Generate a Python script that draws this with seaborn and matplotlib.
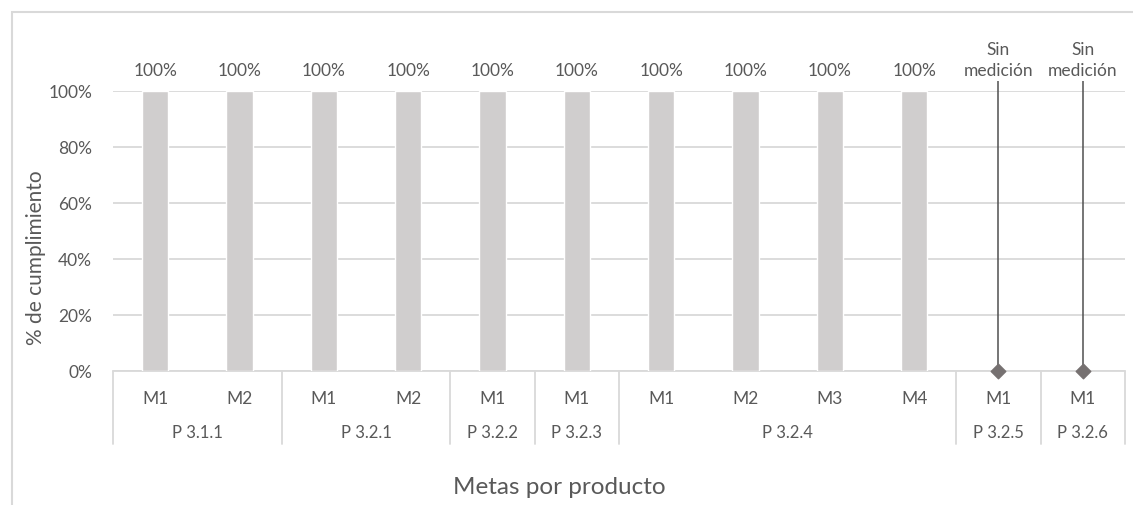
import pandas as pd
import matplotlib
matplotlib.use("Agg")
import matplotlib.pyplot as plt
import matplotlib.transforms as mtransforms
from matplotlib.patches import Rectangle
import numpy as np
import seaborn as sns

# Datos: metas por producto y % de cumplimiento (None = sin medición)
productos = ["P 3.1.1", "P 3.1.1", "P 3.2.1", "P 3.2.1", "P 3.2.2", "P 3.2.3",
             "P 3.2.4", "P 3.2.4", "P 3.2.4", "P 3.2.4", "P 3.2.5", "P 3.2.6"]
metas = ["M1", "M2", "M1", "M2", "M1", "M1", "M1", "M2", "M3", "M4", "M1", "M1"]
cumplimiento = [1.0, 1.0, 1.0, 1.0, 1.0, 1.0, 1.0, 1.0, 1.0, 1.0, None, None]
etiquetas = ["100%"] * 10 + ["Sin\nmedición", "Sin\nmedición"]
y_ticks = [0, 0.2, 0.4, 0.6, 0.8, 1.0]
y_labels = ["0%", "20%", "40%", "60%", "80%", "100%"]

TXT = "#595959"
GRID = "#D9D9D9"
BAR = "#D0CECE"

sns.set_style("white")
plt.rcParams["font.family"] = ["Lato", "DejaVu Sans"]

df = pd.DataFrame({"producto": productos, "meta": metas, "valor": cumplimiento})
df["clave"] = df["producto"] + "|" + df["meta"]
df["valor"] = df["valor"].astype(float)

fig = plt.figure(figsize=(11.33, 5.06), dpi=100)
ax = fig.add_axes([113 / 1133, 134 / 506, 1012 / 1133, 280 / 506])

sns.barplot(data=df, x="clave", y="valor", order=list(df["clave"]),
            color=BAR, width=0.31, saturation=1, ax=ax, zorder=2)

# marcadores para las metas sin medición
sin_med = df[df["valor"].isna()]
pos_sin = [list(df["clave"]).index(k) for k in sin_med["clave"]]
ax.vlines(pos_sin, 0, 1.035, color="#505050", lw=1.1, zorder=3, clip_on=False)
ax.scatter(pos_sin, [0] * len(pos_sin), marker="D", s=55, color="#767171",
           zorder=4, clip_on=False)

ax.set_xlim(-0.5, len(df) - 0.5)
ax.set_ylim(0, 1)
ax.set_yticks(y_ticks)
ax.set_yticklabels(y_labels)
ax.grid(axis="y", color=GRID, lw=1.3, zorder=0)
ax.set_axisbelow(True)
for s in ax.spines.values():
    s.set_visible(False)
ax.tick_params(axis="y", length=0, pad=15, labelsize=12.5, labelcolor=TXT)
ax.tick_params(axis="x", length=0, pad=14, labelsize=12.5, labelcolor=TXT)
ax.set_xticks(range(len(df)))
ax.set_xticklabels(metas)
ax.set_xlabel("")
ax.set_ylabel("% de cumplimiento", fontsize=15, color=TXT)
ax.yaxis.set_label_coords(-0.066, 0.41)

# etiquetas de valor
for i, lab in enumerate(etiquetas):
    ax.text(i, 1.045, lab, ha="center", va="bottom", fontsize=12.5,
            color=TXT, linespacing=1.45)

# eje de categorías de dos niveles
trans = mtransforms.blended_transform_factory(ax.transData, ax.transAxes)
limites = [-0.5]
for i in range(1, len(productos)):
    if productos[i] != productos[i - 1]:
        limites.append(i - 0.5)
limites.append(len(productos) - 0.5)
ax.plot([-0.5, len(df) - 0.5], [0, 0], color=GRID, lw=1.3, transform=trans,
        clip_on=False, zorder=1)
for b in limites:
    ax.plot([b, b], [0, -0.262], color=GRID, lw=1.3, transform=trans, clip_on=False)
for a, b in zip(limites[:-1], limites[1:]):
    nombre = productos[int(a + 0.5)]
    ax.text((a + b) / 2, -0.218, nombre, ha="center", va="center", fontsize=12,
            color=TXT, transform=trans)

fig.text(0.494, 0.036, "Metas por producto", ha="center", va="center",
         fontsize=17.5, color=TXT)

# borde del área del gráfico
fig.add_artist(Rectangle((12 / 1133, -0.1), 1.2, (506 - 13) / 506 + 0.1,
                         transform=fig.transFigure, fill=False,
                         edgecolor=GRID, lw=1.5))

plt.savefig("out.png", dpi=100)
